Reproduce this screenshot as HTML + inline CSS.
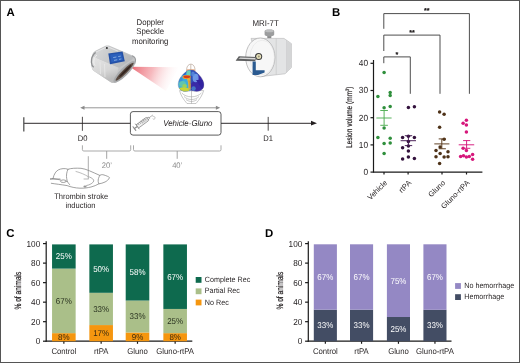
<!DOCTYPE html>
<html><head><meta charset="utf-8"><style>
html,body{margin:0;padding:0;background:#fff;}
body{width:520px;height:363px;overflow:hidden;position:relative;}
svg{display:block;font-family:"Liberation Sans", sans-serif;filter:blur(0.35px);text-rendering:geometricPrecision;}
</style></head><body>
<svg width="520" height="363" viewBox="0 0 520 363">
<rect x="0" y="0" width="520" height="363" fill="#fff"/>
<text x="6.60" y="16.30" font-size="11.4" fill="#000" stroke="#000" stroke-width="0" text-anchor="start" font-weight="bold" font-style="normal" >A</text>
<text x="332.00" y="16.40" font-size="11.4" fill="#000" stroke="#000" stroke-width="0" text-anchor="start" font-weight="bold" font-style="normal" >B</text>
<text x="6.20" y="236.60" font-size="11.4" fill="#000" stroke="#000" stroke-width="0" text-anchor="start" font-weight="bold" font-style="normal" >C</text>
<text x="264.90" y="236.60" font-size="11.4" fill="#000" stroke="#000" stroke-width="0" text-anchor="start" font-weight="bold" font-style="normal" >D</text>
<line x1="46.20" y1="241.20" x2="46.20" y2="341.70" stroke="#1a1a1a" stroke-width="1.2" />
<line x1="43.00" y1="341.20" x2="46.20" y2="341.20" stroke="#1a1a1a" stroke-width="1.2" />
<text transform="translate(40.20,344.10) scale(0.9346,1)" x="0" y="0" font-size="8.77" fill="#231f20" stroke="#231f20" stroke-width="0.0" text-anchor="end" font-weight="normal" font-style="normal" >0</text>
<line x1="43.00" y1="321.68" x2="46.20" y2="321.68" stroke="#1a1a1a" stroke-width="1.2" />
<text transform="translate(40.20,324.58) scale(0.9346,1)" x="0" y="0" font-size="8.77" fill="#231f20" stroke="#231f20" stroke-width="0.0" text-anchor="end" font-weight="normal" font-style="normal" >20</text>
<line x1="43.00" y1="302.16" x2="46.20" y2="302.16" stroke="#1a1a1a" stroke-width="1.2" />
<text transform="translate(40.20,305.06) scale(0.9346,1)" x="0" y="0" font-size="8.77" fill="#231f20" stroke="#231f20" stroke-width="0.0" text-anchor="end" font-weight="normal" font-style="normal" >40</text>
<line x1="43.00" y1="282.64" x2="46.20" y2="282.64" stroke="#1a1a1a" stroke-width="1.2" />
<text transform="translate(40.20,285.54) scale(0.9346,1)" x="0" y="0" font-size="8.77" fill="#231f20" stroke="#231f20" stroke-width="0.0" text-anchor="end" font-weight="normal" font-style="normal" >60</text>
<line x1="43.00" y1="263.12" x2="46.20" y2="263.12" stroke="#1a1a1a" stroke-width="1.2" />
<text transform="translate(40.20,266.02) scale(0.9346,1)" x="0" y="0" font-size="8.77" fill="#231f20" stroke="#231f20" stroke-width="0.0" text-anchor="end" font-weight="normal" font-style="normal" >80</text>
<line x1="43.00" y1="243.60" x2="46.20" y2="243.60" stroke="#1a1a1a" stroke-width="1.2" />
<text transform="translate(40.20,246.50) scale(0.9346,1)" x="0" y="0" font-size="8.77" fill="#231f20" stroke="#231f20" stroke-width="0.0" text-anchor="end" font-weight="normal" font-style="normal" >100</text>
<line x1="45.70" y1="341.20" x2="192.30" y2="341.20" stroke="#1a1a1a" stroke-width="1.2" />
<line x1="63.85" y1="341.20" x2="63.85" y2="343.80" stroke="#1a1a1a" stroke-width="1.2" />
<text transform="translate(63.85,354.40) scale(0.9346,1)" x="0" y="0" font-size="8.29" fill="#231f20" stroke="#231f20" stroke-width="0.0" text-anchor="middle" font-weight="normal" font-style="normal" >Control</text>
<rect x="52.05" y="333.14" width="23.60" height="8.07" fill="#f5960f" />
<rect x="52.05" y="268.60" width="23.60" height="64.55" fill="#aabf89" />
<rect x="52.05" y="244.40" width="23.60" height="24.21" fill="#0e6a4e" />
<text transform="translate(63.85,340.07) scale(0.9346,1)" x="0" y="0" font-size="8.56" fill="#3a2a10" stroke="#3a2a10" stroke-width="0.0" text-anchor="middle" font-weight="normal" font-style="normal" >8%</text>
<text transform="translate(63.85,303.77) scale(0.9346,1)" x="0" y="0" font-size="8.56" fill="#2a3320" stroke="#2a3320" stroke-width="0.0" text-anchor="middle" font-weight="normal" font-style="normal" >67%</text>
<text transform="translate(63.85,259.40) scale(0.9346,1)" x="0" y="0" font-size="8.56" fill="#ffffff" stroke="#ffffff" stroke-width="0" text-anchor="middle" font-weight="normal" font-style="normal" >25%</text>
<line x1="101.15" y1="341.20" x2="101.15" y2="343.80" stroke="#1a1a1a" stroke-width="1.2" />
<text transform="translate(101.15,354.40) scale(0.9346,1)" x="0" y="0" font-size="8.29" fill="#231f20" stroke="#231f20" stroke-width="0.0" text-anchor="middle" font-weight="normal" font-style="normal" >rtPA</text>
<rect x="89.35" y="325.06" width="23.60" height="16.15" fill="#f5960f" />
<rect x="89.35" y="292.80" width="23.60" height="32.27" fill="#aabf89" />
<rect x="89.35" y="244.40" width="23.60" height="48.41" fill="#0e6a4e" />
<text transform="translate(101.15,336.03) scale(0.9346,1)" x="0" y="0" font-size="8.56" fill="#3a2a10" stroke="#3a2a10" stroke-width="0.0" text-anchor="middle" font-weight="normal" font-style="normal" >17%</text>
<text transform="translate(101.15,311.83) scale(0.9346,1)" x="0" y="0" font-size="8.56" fill="#2a3320" stroke="#2a3320" stroke-width="0.0" text-anchor="middle" font-weight="normal" font-style="normal" >33%</text>
<text transform="translate(101.15,271.50) scale(0.9346,1)" x="0" y="0" font-size="8.56" fill="#ffffff" stroke="#ffffff" stroke-width="0" text-anchor="middle" font-weight="normal" font-style="normal" >50%</text>
<line x1="137.50" y1="341.20" x2="137.50" y2="343.80" stroke="#1a1a1a" stroke-width="1.2" />
<text transform="translate(137.50,354.40) scale(0.9346,1)" x="0" y="0" font-size="8.29" fill="#231f20" stroke="#231f20" stroke-width="0.0" text-anchor="middle" font-weight="normal" font-style="normal" >Gluno</text>
<rect x="125.70" y="332.49" width="23.60" height="8.72" fill="#f5960f" />
<rect x="125.70" y="300.54" width="23.60" height="31.95" fill="#aabf89" />
<rect x="125.70" y="244.40" width="23.60" height="56.15" fill="#0e6a4e" />
<text transform="translate(137.50,339.74) scale(0.9346,1)" x="0" y="0" font-size="8.56" fill="#3a2a10" stroke="#3a2a10" stroke-width="0.0" text-anchor="middle" font-weight="normal" font-style="normal" >9%</text>
<text transform="translate(137.50,319.42) scale(0.9346,1)" x="0" y="0" font-size="8.56" fill="#2a3320" stroke="#2a3320" stroke-width="0.0" text-anchor="middle" font-weight="normal" font-style="normal" >33%</text>
<text transform="translate(137.50,275.37) scale(0.9346,1)" x="0" y="0" font-size="8.56" fill="#ffffff" stroke="#ffffff" stroke-width="0" text-anchor="middle" font-weight="normal" font-style="normal" >58%</text>
<line x1="175.15" y1="341.20" x2="175.15" y2="343.80" stroke="#1a1a1a" stroke-width="1.2" />
<text transform="translate(175.15,354.40) scale(0.9346,1)" x="0" y="0" font-size="8.29" fill="#231f20" stroke="#231f20" stroke-width="0.0" text-anchor="middle" font-weight="normal" font-style="normal" >Gluno-rtPA</text>
<rect x="163.35" y="333.14" width="23.60" height="8.07" fill="#f5960f" />
<rect x="163.35" y="308.94" width="23.60" height="24.21" fill="#aabf89" />
<rect x="163.35" y="244.40" width="23.60" height="64.55" fill="#0e6a4e" />
<text transform="translate(175.15,340.07) scale(0.9346,1)" x="0" y="0" font-size="8.56" fill="#3a2a10" stroke="#3a2a10" stroke-width="0.0" text-anchor="middle" font-weight="normal" font-style="normal" >8%</text>
<text transform="translate(175.15,323.94) scale(0.9346,1)" x="0" y="0" font-size="8.56" fill="#2a3320" stroke="#2a3320" stroke-width="0.0" text-anchor="middle" font-weight="normal" font-style="normal" >25%</text>
<text transform="translate(175.15,279.57) scale(0.9346,1)" x="0" y="0" font-size="8.56" fill="#ffffff" stroke="#ffffff" stroke-width="0" text-anchor="middle" font-weight="normal" font-style="normal" >67%</text>
<text transform="translate(17.50,290.60) rotate(-90) scale(0.72,1)" x="0" y="3.2" font-size="9.2" fill="#231f20" stroke="#231f20" stroke-width="0.22" text-anchor="middle">% of animals</text>
<rect x="195.70" y="277.00" width="5.80" height="5.80" fill="#0e6a4e" />
<text transform="translate(204.80,282.00) scale(0.9346,1)" x="0" y="0" font-size="7.70" fill="#231f20" stroke="#231f20" stroke-width="0.0" text-anchor="start" font-weight="normal" font-style="normal" >Complete Rec</text>
<rect x="195.70" y="288.40" width="5.80" height="5.80" fill="#aabf89" />
<text transform="translate(204.80,293.40) scale(0.9346,1)" x="0" y="0" font-size="7.70" fill="#231f20" stroke="#231f20" stroke-width="0.0" text-anchor="start" font-weight="normal" font-style="normal" >Partial Rec</text>
<rect x="195.70" y="299.60" width="5.80" height="5.80" fill="#f5960f" />
<text transform="translate(204.80,304.60) scale(0.9346,1)" x="0" y="0" font-size="7.70" fill="#231f20" stroke="#231f20" stroke-width="0.0" text-anchor="start" font-weight="normal" font-style="normal" >No Rec</text>
<line x1="308.30" y1="241.20" x2="308.30" y2="341.70" stroke="#1a1a1a" stroke-width="1.2" />
<line x1="305.10" y1="341.20" x2="308.30" y2="341.20" stroke="#1a1a1a" stroke-width="1.2" />
<text transform="translate(302.30,344.10) scale(0.9346,1)" x="0" y="0" font-size="8.77" fill="#231f20" stroke="#231f20" stroke-width="0.0" text-anchor="end" font-weight="normal" font-style="normal" >0</text>
<line x1="305.10" y1="321.68" x2="308.30" y2="321.68" stroke="#1a1a1a" stroke-width="1.2" />
<text transform="translate(302.30,324.58) scale(0.9346,1)" x="0" y="0" font-size="8.77" fill="#231f20" stroke="#231f20" stroke-width="0.0" text-anchor="end" font-weight="normal" font-style="normal" >20</text>
<line x1="305.10" y1="302.16" x2="308.30" y2="302.16" stroke="#1a1a1a" stroke-width="1.2" />
<text transform="translate(302.30,305.06) scale(0.9346,1)" x="0" y="0" font-size="8.77" fill="#231f20" stroke="#231f20" stroke-width="0.0" text-anchor="end" font-weight="normal" font-style="normal" >40</text>
<line x1="305.10" y1="282.64" x2="308.30" y2="282.64" stroke="#1a1a1a" stroke-width="1.2" />
<text transform="translate(302.30,285.54) scale(0.9346,1)" x="0" y="0" font-size="8.77" fill="#231f20" stroke="#231f20" stroke-width="0.0" text-anchor="end" font-weight="normal" font-style="normal" >60</text>
<line x1="305.10" y1="263.12" x2="308.30" y2="263.12" stroke="#1a1a1a" stroke-width="1.2" />
<text transform="translate(302.30,266.02) scale(0.9346,1)" x="0" y="0" font-size="8.77" fill="#231f20" stroke="#231f20" stroke-width="0.0" text-anchor="end" font-weight="normal" font-style="normal" >80</text>
<line x1="305.10" y1="243.60" x2="308.30" y2="243.60" stroke="#1a1a1a" stroke-width="1.2" />
<text transform="translate(302.30,246.50) scale(0.9346,1)" x="0" y="0" font-size="8.77" fill="#231f20" stroke="#231f20" stroke-width="0.0" text-anchor="end" font-weight="normal" font-style="normal" >100</text>
<line x1="307.80" y1="341.20" x2="451.50" y2="341.20" stroke="#1a1a1a" stroke-width="1.2" />
<line x1="325.35" y1="341.20" x2="325.35" y2="343.80" stroke="#1a1a1a" stroke-width="1.2" />
<text transform="translate(325.35,354.40) scale(0.9346,1)" x="0" y="0" font-size="8.29" fill="#231f20" stroke="#231f20" stroke-width="0.0" text-anchor="middle" font-weight="normal" font-style="normal" >Control</text>
<rect x="313.80" y="309.70" width="23.10" height="31.51" fill="#434d64" />
<rect x="313.80" y="244.30" width="23.10" height="65.41" fill="#9488c4" />
<text transform="translate(325.35,328.35) scale(0.9346,1)" x="0" y="0" font-size="8.56" fill="#ffffff" stroke="#ffffff" stroke-width="0" text-anchor="middle" font-weight="normal" font-style="normal" >33%</text>
<text transform="translate(325.35,279.90) scale(0.9346,1)" x="0" y="0" font-size="8.56" fill="#ffffff" stroke="#ffffff" stroke-width="0" text-anchor="middle" font-weight="normal" font-style="normal" >67%</text>
<line x1="361.55" y1="341.20" x2="361.55" y2="343.80" stroke="#1a1a1a" stroke-width="1.2" />
<text transform="translate(361.55,354.40) scale(0.9346,1)" x="0" y="0" font-size="8.29" fill="#231f20" stroke="#231f20" stroke-width="0.0" text-anchor="middle" font-weight="normal" font-style="normal" >rtPA</text>
<rect x="350.00" y="309.70" width="23.10" height="31.51" fill="#434d64" />
<rect x="350.00" y="244.30" width="23.10" height="65.41" fill="#9488c4" />
<text transform="translate(361.55,328.35) scale(0.9346,1)" x="0" y="0" font-size="8.56" fill="#ffffff" stroke="#ffffff" stroke-width="0" text-anchor="middle" font-weight="normal" font-style="normal" >33%</text>
<text transform="translate(361.55,279.90) scale(0.9346,1)" x="0" y="0" font-size="8.56" fill="#ffffff" stroke="#ffffff" stroke-width="0" text-anchor="middle" font-weight="normal" font-style="normal" >67%</text>
<line x1="398.45" y1="341.20" x2="398.45" y2="343.80" stroke="#1a1a1a" stroke-width="1.2" />
<text transform="translate(398.45,354.40) scale(0.9346,1)" x="0" y="0" font-size="8.29" fill="#231f20" stroke="#231f20" stroke-width="0.0" text-anchor="middle" font-weight="normal" font-style="normal" >Gluno</text>
<rect x="386.90" y="317.00" width="23.10" height="24.21" fill="#434d64" />
<rect x="386.90" y="244.30" width="23.10" height="72.71" fill="#9488c4" />
<text transform="translate(398.45,332.00) scale(0.9346,1)" x="0" y="0" font-size="8.56" fill="#ffffff" stroke="#ffffff" stroke-width="0" text-anchor="middle" font-weight="normal" font-style="normal" >25%</text>
<text transform="translate(398.45,283.55) scale(0.9346,1)" x="0" y="0" font-size="8.56" fill="#ffffff" stroke="#ffffff" stroke-width="0" text-anchor="middle" font-weight="normal" font-style="normal" >75%</text>
<line x1="434.95" y1="341.20" x2="434.95" y2="343.80" stroke="#1a1a1a" stroke-width="1.2" />
<text transform="translate(434.95,354.40) scale(0.9346,1)" x="0" y="0" font-size="8.29" fill="#231f20" stroke="#231f20" stroke-width="0.0" text-anchor="middle" font-weight="normal" font-style="normal" >Gluno-rtPA</text>
<rect x="423.40" y="309.80" width="23.10" height="31.41" fill="#434d64" />
<rect x="423.40" y="244.30" width="23.10" height="65.51" fill="#9488c4" />
<text transform="translate(434.95,328.40) scale(0.9346,1)" x="0" y="0" font-size="8.56" fill="#ffffff" stroke="#ffffff" stroke-width="0" text-anchor="middle" font-weight="normal" font-style="normal" >33%</text>
<text transform="translate(434.95,279.95) scale(0.9346,1)" x="0" y="0" font-size="8.56" fill="#ffffff" stroke="#ffffff" stroke-width="0" text-anchor="middle" font-weight="normal" font-style="normal" >67%</text>
<text transform="translate(279.90,290.60) rotate(-90) scale(0.72,1)" x="0" y="3.2" font-size="9.2" fill="#231f20" stroke="#231f20" stroke-width="0.22" text-anchor="middle">% of animals</text>
<rect x="455.10" y="283.10" width="5.80" height="5.80" fill="#9488c4" />
<text transform="translate(464.20,288.10) scale(0.9346,1)" x="0" y="0" font-size="7.70" fill="#231f20" stroke="#231f20" stroke-width="0.0" text-anchor="start" font-weight="normal" font-style="normal" >No hemorrhage</text>
<rect x="455.10" y="294.20" width="5.80" height="5.80" fill="#434d64" />
<text transform="translate(464.20,299.20) scale(0.9346,1)" x="0" y="0" font-size="7.70" fill="#231f20" stroke="#231f20" stroke-width="0.0" text-anchor="start" font-weight="normal" font-style="normal" >Hemorrhage</text>
<line x1="373.50" y1="60.00" x2="373.50" y2="172.50" stroke="#1a1a1a" stroke-width="1.2" />
<line x1="370.50" y1="172.10" x2="373.50" y2="172.10" stroke="#1a1a1a" stroke-width="1.2" />
<text transform="translate(368.10,175.00) scale(0.9346,1)" x="0" y="0" font-size="8.88" fill="#231f20" stroke="#231f20" stroke-width="0.0" text-anchor="end" font-weight="normal" font-style="normal" >0</text>
<line x1="370.50" y1="144.90" x2="373.50" y2="144.90" stroke="#1a1a1a" stroke-width="1.2" />
<text transform="translate(368.10,147.80) scale(0.9346,1)" x="0" y="0" font-size="8.88" fill="#231f20" stroke="#231f20" stroke-width="0.0" text-anchor="end" font-weight="normal" font-style="normal" >10</text>
<line x1="370.50" y1="117.70" x2="373.50" y2="117.70" stroke="#1a1a1a" stroke-width="1.2" />
<text transform="translate(368.10,120.60) scale(0.9346,1)" x="0" y="0" font-size="8.88" fill="#231f20" stroke="#231f20" stroke-width="0.0" text-anchor="end" font-weight="normal" font-style="normal" >20</text>
<line x1="370.50" y1="90.50" x2="373.50" y2="90.50" stroke="#1a1a1a" stroke-width="1.2" />
<text transform="translate(368.10,93.40) scale(0.9346,1)" x="0" y="0" font-size="8.88" fill="#231f20" stroke="#231f20" stroke-width="0.0" text-anchor="end" font-weight="normal" font-style="normal" >30</text>
<line x1="370.50" y1="63.30" x2="373.50" y2="63.30" stroke="#1a1a1a" stroke-width="1.2" />
<text transform="translate(368.10,66.20) scale(0.9346,1)" x="0" y="0" font-size="8.88" fill="#231f20" stroke="#231f20" stroke-width="0.0" text-anchor="end" font-weight="normal" font-style="normal" >40</text>
<line x1="373.10" y1="172.10" x2="482.40" y2="172.10" stroke="#1a1a1a" stroke-width="1.2" />
<line x1="384.00" y1="172.10" x2="384.00" y2="174.50" stroke="#1a1a1a" stroke-width="1.2" />
<text transform="translate(387.60,183.30) rotate(-45)" x="0" y="0" font-size="7.55" fill="#231f20" stroke="#231f20" stroke-width="0.0" text-anchor="end">Vehicle</text>
<line x1="408.10" y1="172.10" x2="408.10" y2="174.50" stroke="#1a1a1a" stroke-width="1.2" />
<text transform="translate(411.70,183.30) rotate(-45)" x="0" y="0" font-size="7.55" fill="#231f20" stroke="#231f20" stroke-width="0.0" text-anchor="end">rtPA</text>
<line x1="442.00" y1="172.10" x2="442.00" y2="174.50" stroke="#1a1a1a" stroke-width="1.2" />
<text transform="translate(445.60,183.30) rotate(-45)" x="0" y="0" font-size="7.55" fill="#231f20" stroke="#231f20" stroke-width="0.0" text-anchor="end">Gluno</text>
<line x1="466.50" y1="172.10" x2="466.50" y2="174.50" stroke="#1a1a1a" stroke-width="1.2" />
<text transform="translate(470.10,183.30) rotate(-45)" x="0" y="0" font-size="7.55" fill="#231f20" stroke="#231f20" stroke-width="0.0" text-anchor="end">Gluno-rtPA</text>
<text transform="translate(351.6,117.2) rotate(-90) scale(0.78,1)" x="0" y="0.2" font-size="8.4" fill="#231f20" stroke="#231f20" stroke-width="0.22" text-anchor="middle">Lesion volume (mm<tspan font-size="5" dy="-2.8">3</tspan><tspan dy="2.8">)</tspan></text>
<polyline points="383.8,28.8 383.8,13.6 469.4,13.6 469.4,93.8" fill="none" stroke="#444444" stroke-width="0.95"/>
<text x="426.70" y="13.40" font-size="7.2" fill="#231f20" stroke="#231f20" stroke-width="0.35" text-anchor="middle">**</text>
<polyline points="383.8,51.0 383.8,35.1 440.0,35.1 440.0,93.8" fill="none" stroke="#444444" stroke-width="0.95"/>
<text x="412.00" y="34.90" font-size="7.2" fill="#231f20" stroke="#231f20" stroke-width="0.35" text-anchor="middle">**</text>
<polyline points="383.8,63.2 383.8,56.9 410.3,56.9 410.3,93.8" fill="none" stroke="#444444" stroke-width="0.95"/>
<text x="397.00" y="56.70" font-size="7.2" fill="#231f20" stroke="#231f20" stroke-width="0.35" text-anchor="middle">*</text>
<circle cx="384.1" cy="72.4" r="1.75" fill="#2f8f3c"/>
<circle cx="377.9" cy="96.4" r="1.75" fill="#2f8f3c"/>
<circle cx="390.2" cy="92.6" r="1.75" fill="#2f8f3c"/>
<circle cx="390.2" cy="95.6" r="1.75" fill="#2f8f3c"/>
<circle cx="384.1" cy="107.7" r="1.75" fill="#2f8f3c"/>
<circle cx="390.2" cy="106.4" r="1.75" fill="#2f8f3c"/>
<circle cx="384.1" cy="127.9" r="1.75" fill="#2f8f3c"/>
<circle cx="377.9" cy="137.4" r="1.75" fill="#2f8f3c"/>
<circle cx="390.2" cy="138.2" r="1.75" fill="#2f8f3c"/>
<circle cx="384.1" cy="143.5" r="1.75" fill="#2f8f3c"/>
<circle cx="390.2" cy="143.1" r="1.75" fill="#2f8f3c"/>
<circle cx="384.1" cy="153.4" r="1.75" fill="#2f8f3c"/>
<circle cx="408.4" cy="107.5" r="1.75" fill="#33123d"/>
<circle cx="414.4" cy="106.7" r="1.75" fill="#33123d"/>
<circle cx="402.6" cy="137.4" r="1.75" fill="#33123d"/>
<circle cx="408.4" cy="136.2" r="1.75" fill="#33123d"/>
<circle cx="414.4" cy="137.4" r="1.75" fill="#33123d"/>
<circle cx="408.4" cy="141.5" r="1.75" fill="#33123d"/>
<circle cx="402.6" cy="147.8" r="1.75" fill="#33123d"/>
<circle cx="408.4" cy="146.1" r="1.75" fill="#33123d"/>
<circle cx="408.4" cy="151.1" r="1.75" fill="#33123d"/>
<circle cx="402.6" cy="158.9" r="1.75" fill="#33123d"/>
<circle cx="408.4" cy="156.9" r="1.75" fill="#33123d"/>
<circle cx="414.4" cy="158.4" r="1.75" fill="#33123d"/>
<circle cx="439.6" cy="112.1" r="1.75" fill="#4e3218"/>
<circle cx="444.1" cy="114.3" r="1.75" fill="#4e3218"/>
<circle cx="439.6" cy="127.3" r="1.75" fill="#4e3218"/>
<circle cx="444.1" cy="139.3" r="1.75" fill="#4e3218"/>
<circle cx="440.1" cy="147" r="1.75" fill="#4e3218"/>
<circle cx="436" cy="150.5" r="1.75" fill="#4e3218"/>
<circle cx="448" cy="151.8" r="1.75" fill="#4e3218"/>
<circle cx="440.1" cy="153.6" r="1.75" fill="#4e3218"/>
<circle cx="436" cy="156.8" r="1.75" fill="#4e3218"/>
<circle cx="444.1" cy="157.1" r="1.75" fill="#4e3218"/>
<circle cx="448" cy="156.8" r="1.75" fill="#4e3218"/>
<circle cx="439.6" cy="163.6" r="1.75" fill="#4e3218"/>
<circle cx="466.4" cy="120.3" r="1.75" fill="#d6177b"/>
<circle cx="463.1" cy="123.2" r="1.75" fill="#d6177b"/>
<circle cx="466.4" cy="125.1" r="1.75" fill="#d6177b"/>
<circle cx="466.4" cy="131.9" r="1.75" fill="#d6177b"/>
<circle cx="463.1" cy="148.3" r="1.75" fill="#d6177b"/>
<circle cx="466.4" cy="150.6" r="1.75" fill="#d6177b"/>
<circle cx="460.6" cy="156.4" r="1.75" fill="#d6177b"/>
<circle cx="463.5" cy="155.7" r="1.75" fill="#d6177b"/>
<circle cx="466.4" cy="157" r="1.75" fill="#d6177b"/>
<circle cx="469.3" cy="156.4" r="1.75" fill="#d6177b"/>
<circle cx="472.6" cy="154.5" r="1.75" fill="#d6177b"/>
<circle cx="472.6" cy="159.3" r="1.75" fill="#d6177b"/>
<line x1="376.40" y1="118.00" x2="391.60" y2="118.00" stroke="#4fae52" stroke-width="0.95" />
<line x1="384.10" y1="110.50" x2="384.10" y2="125.30" stroke="#4fae52" stroke-width="0.95" />
<line x1="380.30" y1="110.50" x2="387.90" y2="110.50" stroke="#4fae52" stroke-width="0.95" />
<line x1="380.30" y1="125.30" x2="387.90" y2="125.30" stroke="#4fae52" stroke-width="0.95" />
<line x1="400.60" y1="140.70" x2="416.00" y2="140.70" stroke="#431a52" stroke-width="0.95" />
<line x1="408.40" y1="135.70" x2="408.40" y2="145.60" stroke="#431a52" stroke-width="0.95" />
<line x1="404.80" y1="135.70" x2="412.20" y2="135.70" stroke="#431a52" stroke-width="0.95" />
<line x1="404.80" y1="145.60" x2="412.20" y2="145.60" stroke="#431a52" stroke-width="0.95" />
<line x1="434.30" y1="143.90" x2="449.40" y2="143.90" stroke="#5a3a1c" stroke-width="0.95" />
<line x1="441.80" y1="138.90" x2="441.80" y2="148.75" stroke="#5a3a1c" stroke-width="0.95" />
<line x1="438.70" y1="138.90" x2="445.90" y2="138.90" stroke="#5a3a1c" stroke-width="0.95" />
<line x1="438.70" y1="148.75" x2="445.90" y2="148.75" stroke="#5a3a1c" stroke-width="0.95" />
<line x1="458.70" y1="144.80" x2="474.20" y2="144.80" stroke="#d6177b" stroke-width="0.95" />
<line x1="466.60" y1="140.60" x2="466.60" y2="148.30" stroke="#d6177b" stroke-width="0.95" />
<line x1="463.10" y1="140.60" x2="470.30" y2="140.60" stroke="#d6177b" stroke-width="0.95" />
<line x1="463.10" y1="148.30" x2="470.30" y2="148.30" stroke="#d6177b" stroke-width="0.95" />
<line x1="23.80" y1="123.30" x2="311.50" y2="123.30" stroke="#231f20" stroke-width="0.95" />
<polygon points="311,120.8 317,123.2 311,125.6" fill="#231f20"/>
<line x1="23.80" y1="117.20" x2="23.80" y2="131.50" stroke="#555" stroke-width="1.3" />
<line x1="82.40" y1="116.80" x2="82.40" y2="130.80" stroke="#231f20" stroke-width="0.8" />
<line x1="268.20" y1="116.90" x2="268.20" y2="130.70" stroke="#231f20" stroke-width="0.8" />
<text transform="translate(82.60,141.40) scale(0.9346,1)" x="0" y="0" font-size="8.13" fill="#231f20" stroke="#231f20" stroke-width="0.0" text-anchor="middle" font-weight="normal" font-style="normal" >D0</text>
<text transform="translate(268.00,141.40) scale(0.9346,1)" x="0" y="0" font-size="8.13" fill="#231f20" stroke="#231f20" stroke-width="0.0" text-anchor="middle" font-weight="normal" font-style="normal" >D1</text>
<rect x="130.4" y="111.6" width="90.6" height="23.5" rx="2.6" fill="#fff" stroke="#333" stroke-width="0.8"/>
<text transform="translate(187.80,126.00) scale(0.9346,1)" x="0" y="0" font-size="8.45" fill="#231f20" stroke="#231f20" stroke-width="0.0" text-anchor="middle" font-weight="normal" font-style="italic" >Vehicle·Gluno</text>
<g transform="translate(134.4,128.6) rotate(-36.4)" fill="none" stroke="#8c8c8c" stroke-width="0.75" stroke-linecap="round"><line x1="0" y1="-2.3" x2="0" y2="2.3" stroke-width="1.1"/><line x1="0" y1="0" x2="3.6" y2="0" stroke-width="1.2"/><line x1="3.6" y1="-3" x2="3.6" y2="3" stroke-width="0.9"/><rect x="3.8" y="-2" width="12.6" height="4" rx="0.6" fill="#f2f2f2"/><rect x="9" y="-1.1" width="6.6" height="2.2" fill="#d8d8d8" stroke="none"/><line x1="6" y1="-2" x2="6" y2="-0.5"/><line x1="8" y1="-2" x2="8" y2="-0.5"/><line x1="10" y1="-2" x2="10" y2="-0.5"/><line x1="12" y1="-2" x2="12" y2="-0.5"/><line x1="14" y1="-2" x2="14" y2="-0.5"/><path d="M16.4,-1.2 L18.4,-0.6 L18.4,0.6 L16.4,1.2"/><line x1="18.4" y1="0" x2="22.6" y2="0" stroke-width="0.6"/></g>
<path d="M152.6,116.4 C154.6,116 155.6,117.4 154.8,118.8 C154.2,119.6 153,119.4 152.8,118.6" fill="none" stroke="#a0a0a0" stroke-width="0.6"/>
<line x1="83.00" y1="107.80" x2="217.50" y2="107.80" stroke="#8a8a8a" stroke-width="0.9" />
<polygon points="80.2,107.8 84.5,105.8 84.5,109.8" fill="#8a8a8a"/>
<polygon points="220.2,107.8 215.9,105.8 215.9,109.8" fill="#8a8a8a"/>
<path d="M82.4,145.3 L82.4,149.6 Q82.4,151 83.8,151 L129.3,151 Q130.7,151 130.7,149.6 L130.7,145.3" fill="none" stroke="#9a9a9a" stroke-width="0.85"/>
<line x1="106.70" y1="151.00" x2="106.70" y2="158.80" stroke="#9a9a9a" stroke-width="0.9" />
<path d="M133.5,145.3 L133.5,149.6 Q133.5,151 134.9,151 L219.6,151 Q221,151 221,149.6 L221,145.3" fill="none" stroke="#9a9a9a" stroke-width="0.85"/>
<line x1="177.20" y1="151.00" x2="177.20" y2="158.80" stroke="#9a9a9a" stroke-width="0.9" />
<text transform="translate(106.80,167.90) scale(0.9346,1)" x="0" y="0" font-size="8.13" fill="#8a8a8a" stroke="#8a8a8a" stroke-width="0.0" text-anchor="middle" font-weight="normal" font-style="normal" >20’</text>
<text transform="translate(177.20,167.90) scale(0.9346,1)" x="0" y="0" font-size="8.13" fill="#8a8a8a" stroke="#8a8a8a" stroke-width="0.0" text-anchor="middle" font-weight="normal" font-style="normal" >40’</text>
<text transform="translate(150.20,24.70) scale(0.9346,1)" x="0" y="0" font-size="8.35" fill="#231f20" stroke="#231f20" stroke-width="0.0" text-anchor="middle" font-weight="normal" font-style="normal" >Doppler</text>
<text transform="translate(150.20,34.30) scale(0.9346,1)" x="0" y="0" font-size="8.35" fill="#231f20" stroke="#231f20" stroke-width="0.0" text-anchor="middle" font-weight="normal" font-style="normal" >Speckle</text>
<text transform="translate(150.20,43.90) scale(0.9346,1)" x="0" y="0" font-size="8.35" fill="#231f20" stroke="#231f20" stroke-width="0.0" text-anchor="middle" font-weight="normal" font-style="normal" >monitoring</text>
<text transform="translate(265.60,26.00) scale(0.9346,1)" x="0" y="0" font-size="8.45" fill="#231f20" stroke="#231f20" stroke-width="0.0" text-anchor="middle" font-weight="normal" font-style="normal" >MRI-7T</text>
<text transform="translate(81.20,198.70) scale(0.9346,1)" x="0" y="0" font-size="8.03" fill="#231f20" stroke="#231f20" stroke-width="0.0" text-anchor="middle" font-weight="normal" font-style="normal" >Thrombin stroke</text>
<text transform="translate(80.50,207.70) scale(0.9346,1)" x="0" y="0" font-size="8.03" fill="#231f20" stroke="#231f20" stroke-width="0.0" text-anchor="middle" font-weight="normal" font-style="normal" >induction</text>
<defs><linearGradient id="beam" x1="130" y1="67" x2="176" y2="84" gradientUnits="userSpaceOnUse"><stop offset="0" stop-color="#e85a66" stop-opacity="0.95"/><stop offset="0.45" stop-color="#f08a92" stop-opacity="0.6"/><stop offset="1" stop-color="#ffffff" stop-opacity="0"/></linearGradient><linearGradient id="devbody" x1="95" y1="47" x2="118" y2="82" gradientUnits="userSpaceOnUse"><stop offset="0" stop-color="#cfd0d1"/><stop offset="0.5" stop-color="#dcdddd"/><stop offset="1" stop-color="#b4b6b8"/></linearGradient><linearGradient id="lh" x1="0" y1="70" x2="0" y2="92" gradientUnits="userSpaceOnUse"><stop offset="0" stop-color="#2a6ad8"/><stop offset="0.3" stop-color="#3a9ae0"/><stop offset="0.55" stop-color="#50c0c8"/><stop offset="0.8" stop-color="#90d060"/><stop offset="1" stop-color="#d0d830"/></linearGradient><linearGradient id="rh" x1="191" y1="70" x2="203" y2="90" gradientUnits="userSpaceOnUse"><stop offset="0" stop-color="#4a78d8"/><stop offset="0.35" stop-color="#4a5ac8"/><stop offset="0.7" stop-color="#3a2aa8"/><stop offset="1" stop-color="#30209a"/></linearGradient><clipPath id="ctx"><path id="ctxp" d="M190.8,70 C189.20,70.00 187.60,70.40 186.40,71.40 C182.40,74.40 178.40,79.00 178.20,84.00 C178.00,89.00 181.40,91.40 185.40,91.40 C187.80,91.40 189.80,91.00 190.80,90.60 C192.40,91.00 194.41,91.40 196.81,91.40 C200.81,91.40 204.14,89.00 203.80,84.00 C203.46,79.00 199.33,74.40 195.24,71.40 C194.01,70.40 192.40,70.00 190.80,70.00 Z"/></clipPath></defs>
<polygon points="129.8,66.8 179,67.2 166,91.0" fill="url(#beam)"/>
<defs><linearGradient id="dfront" x1="100" y1="58" x2="106" y2="80" gradientUnits="userSpaceOnUse"><stop offset="0" stop-color="#e2e2e2"/><stop offset="0.6" stop-color="#d6d6d6"/><stop offset="1" stop-color="#bdbdbd"/></linearGradient><linearGradient id="dtop" x1="100" y1="48" x2="125" y2="64" gradientUnits="userSpaceOnUse"><stop offset="0" stop-color="#d4d5d6"/><stop offset="1" stop-color="#b8babc"/></linearGradient></defs>
<path d="M92,56 C92.5,53.5 93.5,52 95.5,50.8 L105,45.9 C106.5,45.3 108,45.3 109.5,45.8 L132.5,55.6 C134.8,56.6 135.8,58.4 135.4,60.8 L134.6,63.6 L117,82 C115.5,83.3 113,83.4 111.2,82.6 L94.6,71.6 C92.8,70.4 91.8,68.6 91.6,66.4 Z" fill="#c4c5c6"/>
<path d="M93.2,56.6 L118.7,67.6 L114,82.4 L111.2,82.6 L94.6,71.6 C92.8,70.4 91.8,68.6 91.6,66.4 L92,58 Z" fill="url(#dfront)"/>
<path d="M93.3,56.5 C93.6,54 94.8,52.6 96.6,51.6 L105.2,46.8 C106.6,46.2 108,46.2 109.4,46.7 L131.4,56 C133.4,56.9 133.6,58.4 132,59.4 L120.5,66.8 C119.6,67.4 118.6,67.6 117.6,67.2 Z" fill="url(#dtop)"/>
<path d="M96,52 L105.4,47.6 C106.8,47 108.2,47.1 109.6,47.6 L118,51.2" fill="none" stroke="#e6e7e8" stroke-width="0.9"/>
<path d="M95.6,52.4 C92.6,54.8 91.2,58.5 91.4,62.2 C91.5,64.6 92.3,66.3 93.7,67.2" fill="none" stroke="#8e9092" stroke-width="1.3"/>
<path d="M96.8,55 C94.6,57 93.6,59.5 93.8,62.2 C93.9,63.8 94.4,65 95.2,65.6" fill="none" stroke="#f2f2f2" stroke-width="0.9"/>
<path d="M100,62 L100.5,74 M104.5,64 L105,77" stroke="#e8e8e8" stroke-width="0.8"/>
<circle cx="106.9" cy="47.9" r="1" fill="#2a2a2a"/>
<polygon points="108.3,53.4 122.6,51.6 124.8,61.2 110,64.2" fill="#2450a6"/>
<polygon points="110,54.6 121.4,53.2 123.2,60 111.4,62.6" fill="#2c60bc"/>
<path d="M113.2,57.6 l3.2,-0.6 M118.2,56.6 l2.6,-0.5 M114,60.4 l3.2,-0.6 M119,59.4 l2.4,-0.5" stroke="#a4c4ee" stroke-width="0.7"/>
<path d="M132,55.8 C134.8,56.9 136,58.8 135.4,61.4 L134.6,64" fill="none" stroke="#9a9c9e" stroke-width="1.1"/>
<ellipse cx="124.3" cy="71.9" rx="14.8" ry="4.0" transform="rotate(-45 124.3 71.9)" fill="#a8aaac"/>
<ellipse cx="124.6" cy="71.7" rx="12.6" ry="2.2" transform="rotate(-45 124.6 71.7)" fill="#5a4a40"/>
<ellipse cx="125.2" cy="71.1" rx="8.4" ry="1.0" transform="rotate(-45 125.2 71.1)" fill="#32241f"/>
<g stroke="#9c9c9c" stroke-width="0.55" fill="#fff" stroke-linejoin="round"><path d="M179.6,90.6 C180.5,95 183.5,99.5 187,103.5 L196,103.5 C199.5,99.5 202.6,95 203.6,90.6 Z"/><path d="M181.8,93 C184,95.5 187.5,96.8 191.5,96.8 C195.5,96.8 199,95.5 201.4,93" fill="none"/><path d="M184,96.5 C186,98.5 188.5,99.5 191.5,99.5 C194.5,99.5 197,98.5 199,96.5" fill="none"/><path d="M186,99.6 C188,101 190,101.5 191.5,101.5 C193,101.5 195,101 197,99.6" fill="none"/><line x1="191.5" y1="91" x2="191.5" y2="103.5"/><path d="M186.6,71 C186.4,67.2 188,64.2 190.8,64.2 C193.6,64.2 195.2,67.2 195,71 Z" stroke="#a08878"/><line x1="190.8" y1="64.5" x2="190.8" y2="71" stroke="#a08878"/></g>
<path d="M187,69.2 L194.6,69.2 L195,71.4 L186.6,71.4 Z" fill="#e8a070" opacity="0.85"/>
<g clip-path="url(#ctx)"><rect x="177" y="69" width="14" height="24" fill="#3cacde"/><ellipse cx="182" cy="72" rx="5" ry="3.5" fill="#2a60cc"/><ellipse cx="189" cy="73" rx="2.6" ry="2.6" fill="#6ccfb4"/><ellipse cx="180.5" cy="80" rx="2" ry="3" fill="#3a8ad8" opacity="0.8"/><ellipse cx="182.5" cy="84" rx="3.4" ry="3" fill="#60c4b0"/><ellipse cx="184.6" cy="86" rx="2.4" ry="2" fill="#98d060"/><ellipse cx="183.4" cy="90" rx="6" ry="2.8" fill="#c8d436"/><path d="M186.6,78.4 C188.2,81 188.6,84.5 188.2,89.5 L190.8,89.5 L190.8,78.4 Z" fill="#d8b840"/><path d="M188,80.5 C189,82.5 189.2,85 189.2,88 L190.4,88 L190.4,80.5 Z" fill="#e09030" opacity="0.8"/><ellipse cx="186.8" cy="77" rx="4.4" ry="2.1" fill="#f0a030"/><ellipse cx="186.8" cy="76.8" rx="3.4" ry="1.4" fill="#d63a18"/><rect x="190.8" y="69" width="15" height="24" fill="#3a2aa6"/><path d="M190.8,69 L201,69 C200,74 196,79 190.8,84 Z" fill="#3050b8"/><ellipse cx="195.6" cy="78" rx="3" ry="4.2" fill="#78a6ee" opacity="0.85"/><ellipse cx="193" cy="74" rx="1.8" ry="2.6" fill="#5a90e0" opacity="0.8"/><path d="M196,80 C198,83 200,86 203,90 L205,90 L205,80 Z" fill="#3222a0"/><ellipse cx="193.6" cy="88.6" rx="2.2" ry="2.4" fill="#4a98d4" opacity="0.7"/></g>
<use href="#ctxp" fill="none" stroke="#7a7a9a" stroke-width="0.35"/>
<g><path d="M251,38.4 L284,38.4 L291.4,43.6 L291.4,67.6 L285,73.8 L262,76.4 Z" fill="#e3e4e5" stroke="#b0b1b2" stroke-width="0.55"/><path d="M276.2,38.6 L276.2,75 M286.6,40 L286.6,72.6" stroke="#c2c3c4" stroke-width="0.6"/><path d="M287,41 L291,44 L291,67 L287,72 Z" fill="#d4d5d6"/><rect x="267.3" y="34.6" width="4" height="3.5" fill="#8a8b8c"/><path d="M264.6,31.6 C264.6,30.2 266,29.6 269.4,29.6 C272.8,29.6 274.2,30.2 274.2,31.6 L274.2,34.6 C274.2,35.8 272.8,36.4 269.4,36.4 C266,36.4 264.6,35.8 264.6,34.6 Z" fill="#9c9d9e"/><ellipse cx="269.4" cy="31" rx="4.4" ry="1.3" fill="#bdbebf"/><ellipse cx="260.3" cy="57.4" rx="14.6" ry="19.4" fill="#f7f7f7" stroke="#a0a1a2" stroke-width="0.65"/><ellipse cx="262.2" cy="57.4" rx="12.2" ry="17.2" fill="none" stroke="#e0e0e0" stroke-width="0.5"/><circle cx="258.6" cy="56.5" r="3.6" fill="#3c3c3c"/><circle cx="258.7" cy="56.5" r="2.5" fill="#e4dfb8"/><circle cx="258.8" cy="56.5" r="1.0" fill="#9a9478"/><polygon points="235.6,60.8 238.8,56.2 256.4,57 255.2,61.2" fill="#5e5f60"/><polygon points="238.4,58.8 240.2,57.4 255.6,58 255,59.6" fill="#d8d8d8"/><path d="M252.6,61.4 L255.8,61.4 L255.8,70.2 L264.6,70.2 L264.6,72.6 L258,75 L252.6,75 Z" fill="#2a5a90"/></g>
<g fill="none" stroke="#7a7a7a" stroke-width="0.7" stroke-linejoin="round" stroke-linecap="round"><path d="M50.4,179 L53,178.6 C54,174 56,171 58.5,169.8 C61,168.6 65,168 68,169.3 C71,168.2 76,168 81,168.3 C86,168.8 92,172 99.8,175.4 C101,174.6 102.4,174.4 104,175 C106.5,175.8 108.5,176.6 109.5,177.6 C108.5,179.8 106.8,181.2 105,182 C103,183 100.8,183.6 98.9,183.8 C96.5,185.2 94,186.2 91,187 C88,187.8 84,188.3 80,188.2 C75,188 71,187 67.1,185.6 C61,184.6 56,184 51.3,183.3" fill="#fff"/><path d="M50.4,179 L60,179"/><path d="M68,169.3 C66.5,172 66.2,176 66.7,178.5 C67,181 68,183.5 69.8,184.7"/><ellipse cx="63.4" cy="181.2" rx="2.9" ry="1.3"/><path d="M53,178.6 C56,179 58.5,179.6 60.5,180"/><path d="M99.8,175.4 C98.6,177.5 98,179.5 98.2,181.5 C98.3,182.5 98.6,183.3 98.9,183.8"/><path d="M76,171.5 C80,172.5 85,174.5 88.3,176.7" stroke="#a0a0a0"/><path d="M89.5,177 C92,178 94,179.5 93.8,181 C93,183 90,185 86.6,185.5" stroke="#8a8a8a"/><path d="M84,179 L87.5,179" stroke="#9a9a9a"/></g>
<ellipse cx="85" cy="186.4" rx="1.6" ry="1" fill="#6a6a6a" opacity="0.7"/>
<line x1="88.30" y1="156.20" x2="88.30" y2="179.40" stroke="#8a8a8a" stroke-width="0.7" />
</svg>
<div style="position:absolute;left:0;top:0;width:518px;height:361px;border:1px solid #555555;"></div>
</body></html>
